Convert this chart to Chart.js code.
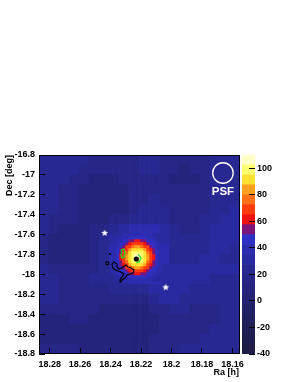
<!DOCTYPE html>
<html>
<head>
<meta charset="utf-8">
<script src="https://cdn.jsdelivr.net/npm/chart.js@4.4.1/dist/chart.umd.min.js"></script>
<style>
    html, body { margin: 0; padding: 0; background: #fff; }
    #wrap { position: relative; width: 295px; height: 382px; }
    #wrap canvas { position: absolute; left: 0; top: 0; }
</style>
</head>
<body>
<div id="wrap">
    <canvas id="map" width="295" height="382"></canvas>
    <canvas id="bar" width="295" height="382"></canvas>
</div>
<script>
// Significance map values, rows top (Dec -16.8) to bottom, columns high Ra to low Ra
const bgValues = [
    [22, 22, 22, 21, 20, 18, 16, 16, 17, 19, 21, 21, 19, 16, 15, 16, 19, 21, 22, 22],
    [23, 22, 21, 20, 18, 15, 13, 13, 15, 18, 20, 20, 17, 13, 11, 13, 17, 21, 23, 23],
    [24, 23, 20, 17, 14, 11, 10, 10, 13, 17, 19, 19, 16, 12, 10, 12, 16, 20, 23, 24],
    [25, 23, 19, 15, 10, 7, 6, 7, 11, 16, 19, 19, 17, 14, 13, 14, 17, 21, 24, 25],
    [25, 22, 17, 13, 9, 6, 5, 7, 11, 16, 19, 20, 19, 17, 15, 15, 18, 22, 25, 27],
    [24, 20, 16, 13, 10, 8, 7, 9, 12, 16, 20, 21, 20, 17, 14, 14, 18, 23, 27, 29],
    [22, 18, 15, 14, 12, 11, 11, 13, 16, 20, 23, 23, 21, 17, 14, 15, 20, 26, 30, 31],
    [20, 15, 12, 11, 12, 14, 17, 21, 30, 35, 36, 35, 30, 20, 17, 19, 24, 29, 32, 31],
    [16, 10, 7, 6, 9, 14, 20, 33, 40, 60, 62, 45, 33, 22, 20, 22, 26, 30, 31, 29],
    [14, 8, 5, 5, 8, 14, 22, 36, 55, 95, 95, 60, 36, 24, 22, 24, 27, 29, 29, 27],
    [16, 10, 7, 7, 10, 16, 23, 36, 50, 85, 85, 55, 36, 27, 25, 26, 28, 28, 27, 26],
    [22, 17, 14, 13, 15, 19, 24, 33, 35, 45, 45, 38, 33, 30, 30, 31, 32, 32, 31, 29],
    [26, 22, 19, 17, 18, 20, 23, 25, 30, 35, 36, 35, 32, 33, 32, 30, 28, 27, 26, 25],
    [25, 22, 19, 17, 17, 18, 19, 20, 21, 23, 26, 30, 33, 34, 31, 27, 24, 23, 22, 22],
    [22, 20, 18, 16, 15, 15, 15, 15, 15, 16, 19, 25, 29, 30, 27, 23, 21, 20, 21, 21],
    [17, 16, 15, 14, 13, 13, 12, 11, 10, 9, 10, 14, 18, 21, 21, 19, 18, 19, 20, 21],
    [12, 11, 12, 13, 13, 12, 11, 9, 8, 7, 7, 10, 14, 17, 18, 18, 18, 19, 20, 21],
    [10, 9, 10, 12, 12, 10, 8, 6, 6, 7, 9, 12, 15, 17, 18, 19, 19, 20, 21, 21],
    [11, 10, 11, 12, 11, 8, 6, 5, 5, 7, 10, 13, 16, 18, 19, 19, 20, 21, 21, 21],
    [14, 13, 13, 13, 11, 8, 6, 5, 6, 8, 11, 14, 17, 19, 20, 20, 20, 21, 22, 22]
];

// Finer values around the hot spot
const hotValues = [
    [28, 30, 32, 35, 37, 39, 40, 41, 41, 40, 39, 37, 35, 32, 30, 28],
    [30, 33, 36, 39, 42, 44, 46, 48, 48, 46, 44, 42, 39, 36, 33, 30],
    [32, 36, 39, 43, 48, 52, 56, 58, 58, 56, 52, 48, 43, 39, 36, 32],
    [35, 39, 43, 49, 56, 62, 67, 70, 70, 67, 62, 56, 49, 43, 39, 35],
    [37, 42, 48, 56, 65, 72, 78, 81, 81, 78, 72, 65, 56, 48, 42, 37],
    [39, 44, 52, 62, 72, 81, 88, 92, 92, 88, 81, 72, 62, 52, 44, 39],
    [40, 46, 56, 67, 78, 88, 96, 101, 101, 96, 88, 78, 67, 56, 46, 40],
    [41, 48, 58, 70, 81, 92, 101, 106, 106, 101, 92, 81, 70, 58, 48, 41],
    [41, 48, 58, 70, 81, 92, 101, 106, 106, 101, 92, 81, 70, 58, 48, 41],
    [40, 46, 56, 67, 78, 88, 96, 101, 101, 96, 88, 78, 67, 56, 46, 40],
    [39, 44, 52, 62, 72, 81, 88, 92, 92, 88, 81, 72, 62, 52, 44, 39],
    [37, 42, 48, 56, 65, 72, 78, 81, 81, 78, 72, 65, 56, 48, 42, 37],
    [35, 39, 43, 49, 56, 62, 67, 70, 70, 67, 62, 56, 49, 43, 39, 35],
    [32, 36, 39, 43, 48, 52, 56, 58, 58, 56, 52, 48, 43, 39, 36, 32],
    [30, 33, 36, 39, 42, 44, 46, 48, 48, 46, 44, 42, 39, 36, 33, 30],
    [28, 30, 32, 35, 37, 39, 40, 41, 41, 40, 39, 37, 35, 32, 30, 28]
];

// Colour levels (z axis)
const levelEdges = [-40, -32.5, -25, -17.5, -10, -2.5, 5, 12.5, 20, 27.5, 35, 42.5,
    50, 57.5, 65, 72.5, 80, 87.5, 95, 102.5, 110];
const levelColors = ['#1d1d46', '#1e1e4e', '#1f1f56', '#20205f', '#212168', '#232372',
    '#24247c', '#262687', '#282893', '#2a2aa0', '#2c2cb0', '#2f2fc6',
    '#7a1478', '#ee1212', '#ff3c10', '#ff7018', '#ffa020', '#ffe030', '#ffff70', '#ffffc8'];

// Markers and contours (Ra [h], Dec [deg])
const stars = [{ x: 18.2439, y: -17.584 }, { x: 18.2038, y: -18.130 }];
const sourceDot = [{ x: 18.2231, y: -17.845 }];
const smallDot = [{ x: 18.2404, y: -17.795 }];
const smallSquare = [{ x: 18.2421, y: -17.888 }];
const blackContour = [
    { x: 18.2391, y: -17.895 }, { x: 18.2378, y: -17.875 }, { x: 18.2358, y: -17.895 },
    { x: 18.2358, y: -17.926 }, { x: 18.2345, y: -17.946 }, { x: 18.2325, y: -17.936 },
    { x: 18.2312, y: -17.916 }, { x: 18.2299, y: -17.906 }, { x: 18.2286, y: -17.926 },
    { x: 18.2266, y: -17.936 }, { x: 18.2246, y: -17.956 }, { x: 18.2253, y: -17.986 },
    { x: 18.2272, y: -17.996 }, { x: 18.2292, y: -18.006 }, { x: 18.2305, y: -18.036 },
    { x: 18.2325, y: -18.056 }, { x: 18.2332, y: -18.076 }, { x: 18.2338, y: -18.056 },
    { x: 18.2325, y: -18.026 }, { x: 18.2312, y: -17.996 }, { x: 18.2332, y: -17.976 },
    { x: 18.2351, y: -17.966 }, { x: 18.2371, y: -17.956 }, { x: 18.2384, y: -17.936 },
    { x: 18.2391, y: -17.895 }
];
const greenLoop = [
    { x: 18.2332, y: -17.755 }, { x: 18.2312, y: -17.745 }, { x: 18.2305, y: -17.785 },
    { x: 18.2312, y: -17.825 }, { x: 18.2325, y: -17.835 }, { x: 18.2332, y: -17.805 },
    { x: 18.2325, y: -17.775 }, { x: 18.2332, y: -17.755 }
];
const greenArc = [
    { x: 18.2220, y: -17.795 }, { x: 18.2200, y: -17.835 }, { x: 18.2213, y: -17.875 },
    { x: 18.2233, y: -17.885 }
];
const psfCircle = [{ x: 18.1662, y: -16.981 }];
const psfLabel = { x: 18.1662, y: -17.172, text: 'PSF' };
const xTitle = 'Ra [h]';

// Axis ranges
const RA_MIN = 18.155, RA_MAX = 18.287;
const DEC_MIN = -18.8, DEC_MAX = -16.8;
const BG_DRA = (RA_MAX - RA_MIN) / 20, BG_DDEC = 0.1;
const HOT_RA = 18.2222, HOT_DEC = -17.832, HOT_DRA = 0.00197, HOT_DDEC = 0.03015;
const PSF_RADIUS = 0.103;

const FONT = '"Liberation Sans", Arial, sans-serif';

function levelColor(v) {
    for (let i = 0; i < levelColors.length; i++) {
        if (v < levelEdges[i + 1]) return levelColors[i];
    }
    return levelColors[levelColors.length - 1];
}

function cellPoints(values, ra0, dec0, dRa, dDec) {
    const pts = [];
    values.forEach((row, r) => {
        row.forEach((v, c) => {
            pts.push({ x: ra0 - (c + 0.5) * dRa, y: dec0 - (r + 0.5) * dDec, v });
        });
    });
    return pts;
}

function cellRadius(chart, dDec) {
    const y = chart.scales.y;
    const side = Math.abs(y.getPixelForValue(DEC_MAX) - y.getPixelForValue(DEC_MAX - dDec)) + 0.8;
    return side / Math.SQRT2;
}

function makeStar(r) {
    const c = document.createElement('canvas');
    const s = Math.ceil(r * 2 + 2);
    c.width = c.height = s;
    const g = c.getContext('2d');
    g.fillStyle = '#fff';
    g.beginPath();
    for (let i = 0; i < 10; i++) {
        const a = -Math.PI / 2 + i * Math.PI / 5;
        const rr = i % 2 ? r * 0.45 : r;
        g.lineTo(s / 2 + rr * Math.cos(a), s / 2 + rr * Math.sin(a));
    }
    g.closePath();
    g.fill();
    return c;
}

const bgCells = cellPoints(bgValues, RA_MAX, DEC_MAX, BG_DRA, BG_DDEC);
const hotCells = cellPoints(hotValues, HOT_RA + 8 * HOT_DRA, HOT_DEC + 8 * HOT_DDEC, HOT_DRA, HOT_DDEC);

const frameAndText = {
    id: 'frameAndText',
    afterDatasetsDraw(chart) {
        const { ctx, scales: { x, y }, chartArea: a } = chart;
        ctx.save();
        ctx.fillStyle = '#fff';
        ctx.font = 'bold 11.5px ' + FONT;
        ctx.textAlign = 'center';
        ctx.textBaseline = 'middle';
        ctx.fillText(psfLabel.text, x.getPixelForValue(psfLabel.x), y.getPixelForValue(psfLabel.y));
        ctx.strokeStyle = '#000';
        ctx.lineWidth = 1;
        ctx.strokeRect(a.left + 0.5, a.top + 0.5, a.width - 1, a.height - 1);
        ctx.restore();
    },
    afterDraw(chart) {
        const { ctx, chartArea: a } = chart;
        ctx.save();
        ctx.fillStyle = '#000';
        ctx.font = 'bold 9px ' + FONT;
        ctx.textAlign = 'right';
        ctx.textBaseline = 'middle';
        ctx.fillText(xTitle, a.right - 1, a.bottom + 19);
        ctx.restore();
    }
};

const lineSet = (data, color, order) => ({
    data, showLine: true, borderColor: color, borderWidth: 1.2,
    pointRadius: 0, fill: false, tension: 0, order
});

new Chart(document.getElementById('map'), {
    type: 'scatter',
    data: {
        datasets: [
            {
                data: bgCells, order: 10, pointStyle: 'rect', borderWidth: 0,
                pointRadius: ctx => cellRadius(ctx.chart, BG_DDEC),
                backgroundColor: ctx => levelColor(ctx.raw ? ctx.raw.v : 0)
            },
            {
                data: hotCells, order: 9, pointStyle: 'rect', borderWidth: 0,
                pointRadius: ctx => cellRadius(ctx.chart, HOT_DDEC),
                backgroundColor: ctx => levelColor(ctx.raw ? ctx.raw.v : 0)
            },
            lineSet(blackContour, '#000', 5),
            lineSet(greenLoop, '#22dd22', 4),
            lineSet(greenArc, '#22dd22', 4),
            { data: sourceDot, order: 3, pointRadius: 2.6, backgroundColor: '#000', borderWidth: 0 },
            { data: smallDot, order: 3, pointRadius: 1.1, backgroundColor: '#000', borderWidth: 0 },
            { data: smallSquare, order: 3, pointStyle: 'rect', pointRadius: 2, backgroundColor: 'rgba(0,0,0,0)', borderColor: '#000', borderWidth: 1 },
            { data: stars, order: 2, pointStyle: makeStar(3.6) },
            {
                data: psfCircle, order: 1, backgroundColor: 'rgba(0,0,0,0)', borderColor: '#fff', borderWidth: 1.3,
                pointRadius: ctx => Math.abs(ctx.chart.scales.y.getPixelForValue(DEC_MAX) - ctx.chart.scales.y.getPixelForValue(DEC_MAX - PSF_RADIUS))
            }
        ]
    },
    options: {
        responsive: false,
        animation: false,
        events: [],
        layout: { padding: { left: 0, top: 155, right: 55, bottom: 0 } },
        plugins: { legend: { display: false }, tooltip: { enabled: false } },
        scales: {
            x: {
                type: 'linear', reverse: true, min: RA_MIN, max: RA_MAX,
                afterFit: s => { s.height = 28; },
                ticks: {
                    stepSize: 0.02, includeBounds: false, autoSkip: false, maxRotation: 0,
                    padding: 11, color: '#000', font: { family: FONT, size: 9, weight: 'bold' },
                    callback: v => String(+v.toFixed(2))
                },
                grid: { drawOnChartArea: false, tickLength: -6, color: '#000', z: 1 },
                border: { display: false }
            },
            y: {
                type: 'linear', min: DEC_MIN, max: DEC_MAX,
                afterFit: s => { s.width = 39; },
                ticks: {
                    stepSize: 0.2, includeBounds: false, autoSkip: false,
                    padding: 10, color: '#000', font: { family: FONT, size: 9, weight: 'bold' },
                    callback: v => String(+v.toFixed(1))
                },
                grid: { drawOnChartArea: false, tickLength: -6, color: '#000', z: 1 },
                border: { display: false },
                title: { display: true, text: 'Dec [deg]', align: 'end', color: '#000', padding: { top: 4, bottom: 0 }, font: { family: FONT, size: 9, weight: 'bold' } }
            }
        }
    },
    plugins: [frameAndText]
});

// Colour scale bar
new Chart(document.getElementById('bar'), {
    type: 'bar',
    data: {
        labels: ['z'],
        datasets: levelColors.map((c, i) => ({
            data: [[levelEdges[i], levelEdges[i + 1]]],
            backgroundColor: c, borderWidth: 0, borderSkipped: false,
            barPercentage: 1, categoryPercentage: 1
        }))
    },
    options: {
        responsive: false,
        animation: false,
        events: [],
        layout: { padding: { left: 242, top: 155, right: 0, bottom: 28 } },
        plugins: { legend: { display: false }, tooltip: { enabled: false } },
        scales: {
            x: { display: false, stacked: true },
            y: {
                position: 'right', min: -40, max: 110,
                afterFit: s => { s.width = 40; },
                ticks: {
                    stepSize: 20, includeBounds: false, padding: 8, color: '#000',
                    font: { family: FONT, size: 9, weight: 'bold' }
                },
                grid: { drawOnChartArea: false, tickLength: -6, color: '#000', z: 1 },
                border: { display: false }
            }
        }
    }
});
</script>
</body>
</html>
